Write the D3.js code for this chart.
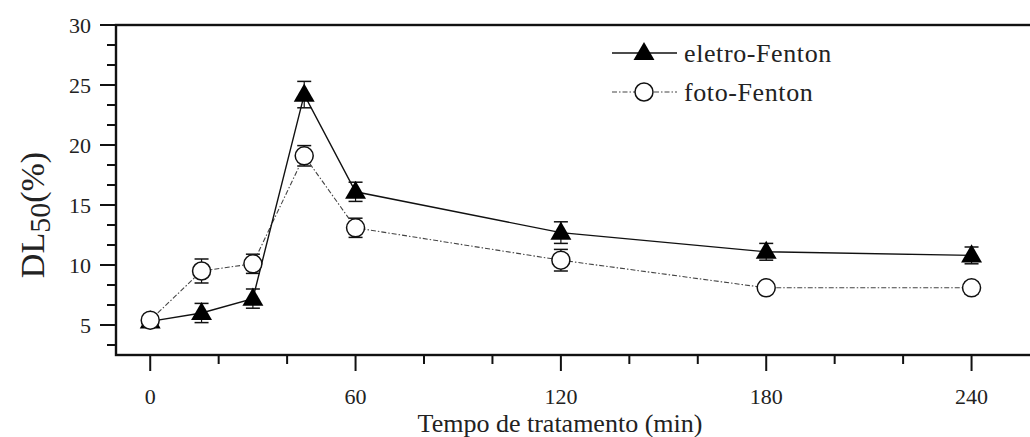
<!DOCTYPE html>
<html>
<head>
<meta charset="utf-8">
<script src="https://cdn.jsdelivr.net/npm/d3@7"></script>
<style>
  body { margin: 0; background: #fff; }
  text { font-family: "Liberation Serif", "Times New Roman", serif; fill: #222; }
</style>
</head>
<body>
<div id="chart"></div>
<script>
// Data
//-----------
var times = [0, 15, 30, 45, 60, 120, 180, 240];
var eletroValues = [5.3, 6.0, 7.2, 24.2, 16.1, 12.7, 11.1, 10.8];
var eletroErrors = [0.3, 0.8, 0.8, 1.1, 0.8, 0.9, 0.7, 0.7];
var fotoValues = [5.4, 9.5, 10.1, 19.1, 13.1, 10.4, 8.1, 8.1];
var fotoErrors = [0.3, 1.0, 0.8, 0.85, 0.8, 0.9, 0.4, 0.5];
var xTicks = [0, 60, 120, 180, 240];
var yTicks = [5, 10, 15, 20, 25, 30];
var seriesNames = ["eletro-Fenton", "foto-Fenton"];

// Layout
//-----------
var W = 1030, H = 437;
var mLeft = 116, mTop = 25, mBottom = 355, mRight = 1040;

var svg = d3.select("#chart").append("svg")
  .attr("width", W)
  .attr("height", H);

var x = d3.scaleLinear([-10, 260], [mLeft, mRight]);
var y = d3.scaleLinear([2.5, 30], [mBottom, mTop]);

// Frame
svg.append("rect")
  .attr("x", mLeft).attr("y", mTop)
  .attr("width", mRight - mLeft).attr("height", mBottom - mTop)
  .attr("fill", "none").attr("stroke", "#111").attr("stroke-width", 2.4);

// Y ticks
var yMinor = d3.range(10 / 3, 30, 5 / 3).filter(function(v) {
  return Math.abs(v / 5 - Math.round(v / 5)) > 0.01;
});
svg.selectAll(".ymin").data(yMinor).enter().append("line")
  .attr("x1", mLeft - 9).attr("x2", mLeft)
  .attr("y1", function(d) { return y(d); }).attr("y2", function(d) { return y(d); })
  .attr("stroke", "#111").attr("stroke-width", 2);
svg.selectAll(".ymaj").data(yTicks).enter().append("line")
  .attr("x1", mLeft - 16).attr("x2", mLeft)
  .attr("y1", function(d) { return y(d); }).attr("y2", function(d) { return y(d); })
  .attr("stroke", "#111").attr("stroke-width", 2);
svg.selectAll(".ylab").data(yTicks).enter().append("text")
  .text(function(d) { return d; })
  .attr("x", 91)
  .attr("y", function(d) { return y(d) + 8; })
  .attr("text-anchor", "end")
  .attr("font-size", "22px");

// X ticks
var xMinor = d3.range(20, 260, 20).filter(function(v) { return v % 60 !== 0; });
svg.selectAll(".xmin").data(xMinor).enter().append("line")
  .attr("x1", function(d) { return x(d); }).attr("x2", function(d) { return x(d); })
  .attr("y1", mBottom).attr("y2", mBottom + 9)
  .attr("stroke", "#111").attr("stroke-width", 2);
svg.selectAll(".xmaj").data(xTicks).enter().append("line")
  .attr("x1", function(d) { return x(d); }).attr("x2", function(d) { return x(d); })
  .attr("y1", mBottom).attr("y2", mBottom + 16)
  .attr("stroke", "#111").attr("stroke-width", 2);
svg.selectAll(".xlab").data(xTicks).enter().append("text")
  .text(function(d) { return d; })
  .attr("x", function(d) { return x(d); })
  .attr("y", 404)
  .attr("text-anchor", "middle")
  .attr("font-size", "22px");

// Axis titles
svg.append("text")
  .text("Tempo de tratamento (min)")
  .attr("x", 560).attr("y", 432)
  .attr("text-anchor", "middle")
  .attr("font-size", "26px");

var yt = svg.append("text")
  .attr("transform", "translate(44," + 215 + ") rotate(-90)")
  .attr("text-anchor", "middle")
  .attr("font-size", "34px");
yt.append("tspan").text("DL");
yt.append("tspan").text("50").attr("dy", 6).attr("font-size", "30px");
yt.append("tspan").text("(%)").attr("dy", -6);

// Series
//-----------
function pts(vals, errs) {
  return times.map(function(t, i) { return {t: t, v: vals[i], e: errs[i]}; });
}
var eletro = pts(eletroValues, eletroErrors);
var foto = pts(fotoValues, fotoErrors);

var line = d3.line()
  .x(function(d) { return x(d.t); })
  .y(function(d) { return y(d.v); });

function errorBars(data, cls) {
  var g = svg.append("g").attr("class", cls);
  data.forEach(function(d) {
    var cx = x(d.t);
    g.append("line").attr("x1", cx).attr("x2", cx)
      .attr("y1", y(d.v - d.e)).attr("y2", y(d.v + d.e))
      .attr("stroke", "#111").attr("stroke-width", 1.2);
    [d.v - d.e, d.v + d.e].forEach(function(v) {
      g.append("line").attr("x1", cx - 7).attr("x2", cx + 7)
        .attr("y1", y(v)).attr("y2", y(v))
        .attr("stroke", "#111").attr("stroke-width", 1.5);
    });
  });
}

errorBars(foto, "ferr");
errorBars(eletro, "eerr");

svg.append("path").datum(foto)
  .attr("d", line)
  .attr("fill", "none").attr("stroke", "#444")
  .attr("stroke-width", 1.1)
  .attr("stroke-dasharray", "5,2,1.5,2");

svg.append("path").datum(eletro)
  .attr("d", line)
  .attr("fill", "none").attr("stroke", "#111")
  .attr("stroke-width", 1.4);

var tri = d3.symbol().type(d3.symbolTriangle).size(190);

svg.selectAll(".tri").data(eletro).enter().append("path")
  .attr("d", tri)
  .attr("transform", function(d) { return "translate(" + x(d.t) + "," + (y(d.v) + 1) + ")"; })
  .attr("fill", "#000");

svg.selectAll(".circ").data(foto).enter().append("circle")
  .attr("cx", function(d) { return x(d.t); })
  .attr("cy", function(d) { return y(d.v); })
  .attr("r", 9)
  .attr("fill", "#fff").attr("stroke", "#111").attr("stroke-width", 1.5);

// Legend
//-----------
var lg = svg.append("g");
lg.append("line").attr("x1", 612).attr("x2", 677).attr("y1", 53).attr("y2", 53)
  .attr("stroke", "#111").attr("stroke-width", 1.4);
lg.append("path").attr("d", tri).attr("transform", "translate(644,54)").attr("fill", "#000");
lg.append("text").text(seriesNames[0]).attr("x", 684).attr("y", 62)
  .attr("font-size", "26px").attr("letter-spacing", "0.6px");

lg.append("line").attr("x1", 612).attr("x2", 677).attr("y1", 92).attr("y2", 92)
  .attr("stroke", "#444").attr("stroke-width", 1.1).attr("stroke-dasharray", "5,2,1.5,2");
lg.append("circle").attr("cx", 644).attr("cy", 92).attr("r", 9)
  .attr("fill", "#fff").attr("stroke", "#111").attr("stroke-width", 1.5);
lg.append("text").text(seriesNames[1]).attr("x", 684).attr("y", 101)
  .attr("font-size", "26px").attr("letter-spacing", "0.6px");
</script>
</body>
</html>
